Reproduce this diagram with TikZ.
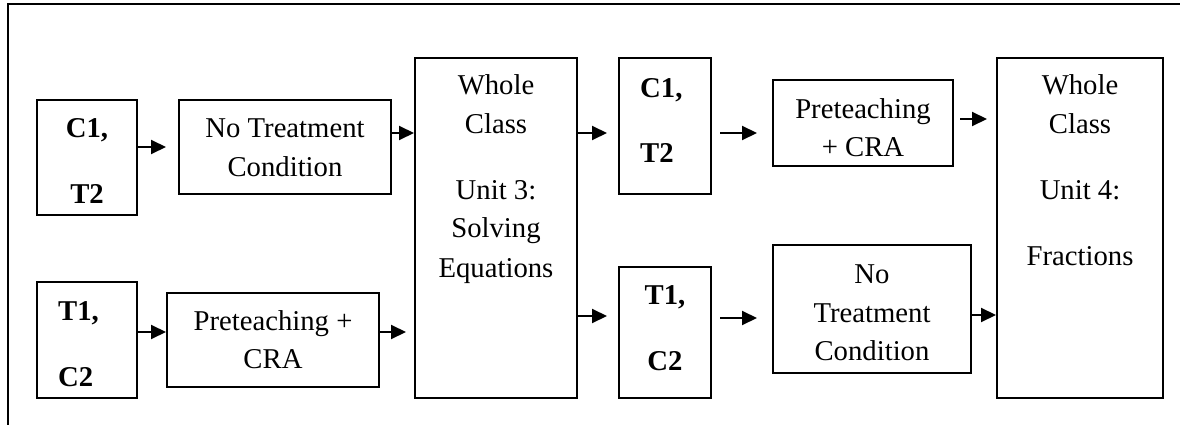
\documentclass[tikz,border=0pt]{standalone}
\usepackage{fontspec}
\setmainfont{Liberation Serif}
\usetikzlibrary{arrows.meta}
\tikzset{
  box/.style={draw, line width=2pt, inner sep=0pt, minimum width=#1},
  box/.default=100pt,
  txt/.style={anchor=base, inner sep=0pt, font=\fontsize{28.7}{39}\selectfont},
  btxt/.style={anchor=base, inner sep=0pt, font=\fontsize{28.7}{39}\selectfont\bfseries},
  btxtl/.style={anchor=base west, inner sep=0pt, font=\fontsize{28.7}{39}\selectfont\bfseries},
  arr/.style={line width=2pt, -{Triangle[length=15pt,width=14pt]}},
}
\begin{document}
\begin{tikzpicture}[x=1pt,y=-1pt]
\useasboundingbox (0,0) rectangle (1180,425);
% frame (cropped)
\draw[line width=2pt] (8,425) -- (8,4) -- (1180,4);

% boxes
\node[box=100pt, minimum height=115pt] (b1) at (87,157.5) {};
\node[box=212pt, minimum height=94pt]  (b2) at (285,147) {};
\node[box=100pt, minimum height=116pt] (b3) at (87,340) {};
\node[box=212pt, minimum height=94pt]  (b4) at (273,340) {};
\node[box=162pt, minimum height=340pt] (b5) at (496,228) {};
\node[box=92pt,  minimum height=136pt] (b6) at (665,126) {};
\node[box=92pt,  minimum height=131pt] (b7) at (665,332.5) {};
\node[box=180pt, minimum height=86pt]  (b8) at (863,123) {};
\node[box=198pt, minimum height=128pt] (b9) at (872,309) {};
\node[box=166pt, minimum height=340pt] (b10) at (1080,228) {};

% texts
\node[btxt] (t1a) at (87,138) {C1,};
\node[btxt] (t1b) at (87,203) {T2};
\node[txt] (t2a) at (285,137) {No Treatment};
\node[txt] (t2b) at (285,176) {Condition};
\node[btxtl] (t3a) at (58,320) {T1,};
\node[btxtl] (t3b) at (58,386) {C2};
\node[txt] (t4a) at (273,330) {Preteaching +};
\node[txt] (t4b) at (273,368) {CRA};
\node[txt] (t5a) at (496,95) {Whole};
\node[txt] (t5b) at (496,133) {Class};
\node[txt] (t5c) at (496,199) {Unit 3:};
\node[txt] (t5d) at (496,237) {Solving};
\node[txt] (t5e) at (496,277) {Equations};
\node[btxtl] (t6a) at (640,98) {C1,};
\node[btxtl] (t6b) at (640,162) {T2};
\node[btxt] (t7a) at (665,304) {T1,};
\node[btxt] (t7b) at (665,370) {C2};
\node[txt] (t8a) at (863,118) {Preteaching};
\node[txt] (t8b) at (863,156) {+ CRA};
\node[txt] (t9a) at (872,283) {No};
\node[txt] (t9b) at (872,322) {Treatment};
\node[txt] (t9c) at (872,360) {Condition};
\node[txt] (t10a) at (1080,95) {Whole};
\node[txt] (t10b) at (1080,133) {Class};
\node[txt] (t10c) at (1080,199) {Unit 4:};
\node[txt] (t10d) at (1080,265) {Fractions};

% free arrow ends
\coordinate (e1) at (166,147);
\coordinate (e4) at (406,332);
\coordinate (e5) at (607,133);
\coordinate (e6) at (607,316);
\coordinate (s7) at (720,133);
\coordinate (e7) at (757,133);
\coordinate (s8) at (720,318);
\coordinate (e8) at (757,318);
\coordinate (s9) at (960,119);
\coordinate (e9) at (987,119);

% connectors
\draw[arr] (b1.east |- e1) -- (e1);
\draw[arr] (b3.east |- 0,332) -- (b4.west |- 0,332);
\draw[arr] (b2.east |- 0,133) -- (b5.west |- 0,133);
\draw[arr] (b4.east |- e4) -- (e4);
\draw[arr] (b5.east |- e5) -- (e5);
\draw[arr] (b5.east |- e6) -- (e6);
\draw[arr] (s7) -- (e7);
\draw[arr] (s8) -- (e8);
\draw[arr] (s9) -- (e9);
\draw[arr] (b9.east |- 0,315) -- (b10.west |- 0,315);
\end{tikzpicture}
\end{document}
